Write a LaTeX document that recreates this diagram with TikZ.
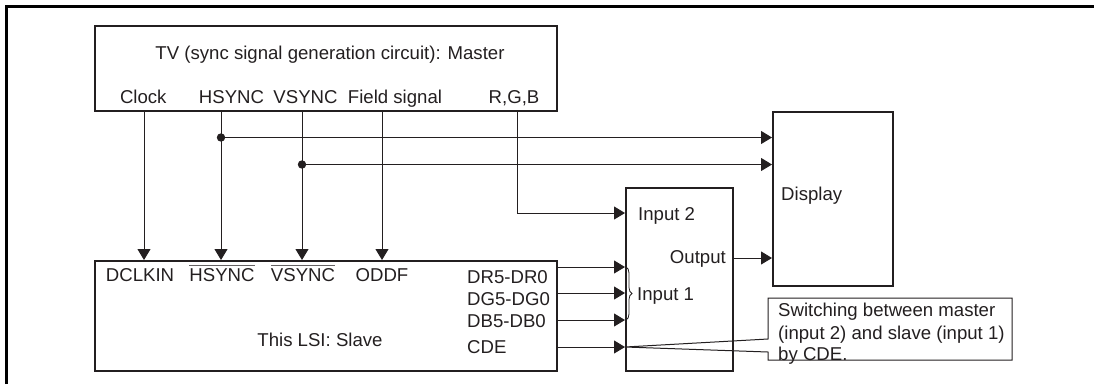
\documentclass[tikz,border=0pt]{standalone}
\usepackage{fontspec}
\setmainfont{Liberation Sans}
\usetikzlibrary{arrows.meta,decorations.pathreplacing}
\definecolor{ink}{RGB}{35,31,32}
\newcommand{\ovl}[1]{\vbox{\color{ink!70}\hrule height 0.7pt\kern 2.6pt\hbox{\color{ink}#1}}}
\begin{document}
\begin{tikzpicture}[x=1pt,y=-1pt,
  font=\fontsize{18.6}{22}\selectfont,
  box/.style={draw=ink, line width=2pt, inner sep=0pt, anchor=north west},
  arr/.style={draw=ink, line width=1pt, -{Triangle[length=11pt,width=13pt]}},
  lbl/.style={text=ink, inner sep=0pt}]
\useasboundingbox (0,0) rectangle (1094,384);
% frame
\draw[black, line width=2.5pt] (6.5,384) -- (6.5,6.5) -- (1094,6.5);
% boxes
\node[box, minimum width=462pt, minimum height=85pt] (tv) at (94,25) {};
\node[box, minimum width=462pt, minimum height=110pt] (slave) at (94,260) {};
\node[box, minimum width=107pt, minimum height=183pt] (sw) at (625,187) {};
\node[box, minimum width=120pt, minimum height=174pt] (disp) at (772,111) {};
\node[draw=none, inner sep=0pt, outer sep=0pt, anchor=north west, minimum width=244pt, minimum height=62pt] (note) at (768,298) {};
% texts
\node[lbl, anchor=base] (ttl) at (330,59.5) {TV (sync signal generation circuit): Master};
\node[lbl, anchor=base] (lclk) at (143.3,103) {Clock};
\node[lbl, anchor=base] (lhs) at (231.5,103) {HSYNC};
\node[lbl, anchor=base] (lvs) at (305.5,103) {VSYNC};
\node[lbl, anchor=base] (lfd) at (395,103) {Field signal};
\node[lbl, anchor=base] (lrgb) at (514,103) {R,G,B};
\node[lbl, anchor=base] (sclk) at (140,281.7) {DCLKIN};
\node[lbl, anchor=base] (shs) at (222,281.7) {\ovl{HSYNC}};
\node[lbl, anchor=base] (svs) at (303,281.7) {\ovl{VSYNC}};
\node[lbl, anchor=base] (sodd) at (382,281.7) {ODDF};
\node[lbl, anchor=base west] (sdr) at (467,283.3) {DR5-DR0};
\node[lbl, anchor=base west] (sdg) at (467,305) {DG5-DG0};
\node[lbl, anchor=base west] (sdb) at (467,327) {DB5-DB0};
\node[lbl, anchor=base west] (scde) at (467,353) {CDE};
\node[lbl, anchor=base] (slv) at (320,346.7) {This LSI: Slave};
\node[lbl, anchor=base west] (lin2) at (638,220.7) {Input 2};
\node[lbl, anchor=base east] (lout) at (726,263) {Output};
\node[lbl, anchor=base west] (lin1) at (637,300.7) {Input 1};
\node[lbl, anchor=base west] (ldisp) at (781,200.7) {Display};
\node[lbl, anchor=base west] (n1) at (778,316.7) {Switching between master};
\node[lbl, anchor=base west] (n2) at (778,339) {(input 2) and slave (input 1)};
\node[lbl, anchor=base west] (n3) at (778,360) {by CDE.};
% coordinates
\coordinate (xclk) at (144,0);
\coordinate (xhs) at (221,0);
\coordinate (xvs) at (302,0);
\coordinate (xfd) at (382,0);
\coordinate (xrgb) at (517,0);
\coordinate (dh) at (221,137.5);
\coordinate (dv) at (302,164.5);
\coordinate (yin2) at (0,213);
\coordinate (yout) at (0,258);
\coordinate (ydr) at (0,267);
\coordinate (ydg) at (0,293);
\coordinate (ydb) at (0,320);
\coordinate (ycde) at (0,347);
\coordinate (tip) at (sw.west |- ycde);
% vertical connectors
\draw[arr] (tv.south -| xclk) -- (slave.north -| xclk);
\draw[arr] (tv.south -| xhs) -- (slave.north -| xhs);
\draw[arr] (tv.south -| xvs) -- (slave.north -| xvs);
\draw[arr] (tv.south -| xfd) -- (slave.north -| xfd);
\draw[arr] (tv.south -| xrgb) |- (sw.west |- yin2);
% sync to display
\draw[arr] (dh) -- (dh -| disp.west);
\draw[arr] (dv) -- (dv -| disp.west);
\fill[ink] (dh) circle (4.2pt);
\fill[ink] (dv) circle (4.2pt);
% output
\draw[arr] (sw.east |- yout) -- (disp.west |- yout);
% slave to switch
\draw[arr] (slave.east |- ydr) -- (sw.west |- ydr);
\draw[arr] (slave.east |- ydg) -- (sw.west |- ydg);
\draw[arr] (slave.east |- ydb) -- (sw.west |- ydb);
\draw[arr] (slave.east |- ycde) -- (tip);
% brace
\draw[ink, line width=0.8pt, decorate, decoration={brace, amplitude=6pt}] (626,267) -- (626,320);
% callout
\draw[ink, line width=1pt, line join=miter] (note.north west) -- (note.north east) -- (note.south east) -- (note.south west) -- (note.west |- 0,352) -- (tip) -- (note.west |- 0,339) -- cycle;
\end{tikzpicture}
\end{document}
